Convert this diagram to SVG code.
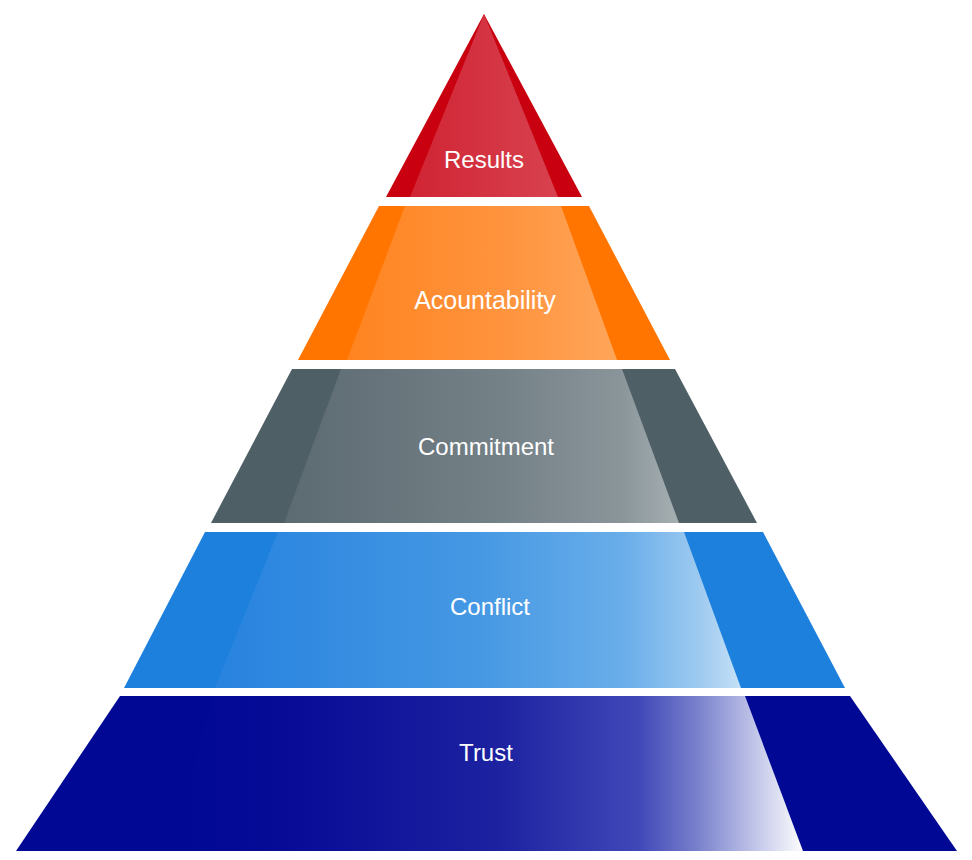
<svg xmlns="http://www.w3.org/2000/svg" width="972" height="860" viewBox="0 0 972 860">
<defs>
<style>
.lbl{font-family:"Liberation Sans",Arial,sans-serif;font-size:24px;fill:#ffffff;text-anchor:middle}
</style>
<linearGradient id="gR" gradientUnits="userSpaceOnUse" x1="410" y1="0" x2="560" y2="0">
<stop offset="0" stop-color="#D02434"/><stop offset="1" stop-color="#D8424F"/>
</linearGradient>
<linearGradient id="gA" gradientUnits="userSpaceOnUse" x1="347" y1="0" x2="618" y2="0">
<stop offset="0" stop-color="#FF8420"/><stop offset="0.6" stop-color="#FF943F"/><stop offset="1" stop-color="#FFA65A"/>
</linearGradient>
<linearGradient id="gC" gradientUnits="userSpaceOnUse" x1="284" y1="0" x2="680" y2="0">
<stop offset="0" stop-color="#5C6A71"/><stop offset="0.55" stop-color="#748187"/><stop offset="0.85" stop-color="#8A959A"/><stop offset="1" stop-color="#A6B0B3"/>
</linearGradient>
<linearGradient id="gF" gradientUnits="userSpaceOnUse" x1="215" y1="0" x2="742" y2="0">
<stop offset="0" stop-color="#2883DF"/><stop offset="0.5" stop-color="#4598E3"/><stop offset="0.78" stop-color="#6AAEEA"/><stop offset="0.92" stop-color="#9ECAF0"/><stop offset="1" stop-color="#C6E1F7"/>
</linearGradient>
<linearGradient id="gT" gradientUnits="userSpaceOnUse" x1="168" y1="0" x2="805" y2="0">
<stop offset="0" stop-color="#000894"/><stop offset="0.2" stop-color="#080C97"/><stop offset="0.52" stop-color="#1C22A0"/><stop offset="0.74" stop-color="#4048B8"/><stop offset="0.83" stop-color="#7880CC"/><stop offset="0.92" stop-color="#C0C4E8"/><stop offset="1" stop-color="#FFFFFF"/>
</linearGradient>
</defs>
<rect width="972" height="860" fill="#ffffff"/>
<g id="results">
<polygon points="484,14 582,197 386,197" fill="#C9000F"/>
<polygon points="484,14 558,197 410,197" fill="url(#gR)"/>
<text class="lbl" x="484" y="168">Results</text>
</g>
<g id="accountability">
<polygon points="379,206 589,206 670,360 298,360" fill="#FF7500"/>
<polygon points="405,206 561,206 617,360 347,360" fill="url(#gA)"/>
<text class="lbl" x="485" y="309" style="font-size:25px">Acountability</text>
</g>
<g id="commitment">
<polygon points="292,369 675,369 757,523 211,523" fill="#4F5F66"/>
<polygon points="341,369 622,369 679,523 284,523" fill="url(#gC)"/>
<text class="lbl" x="486" y="455">Commitment</text>
</g>
<g id="conflict">
<polygon points="205,532 763,532 845,688 124,688" fill="#1E80DD"/>
<polygon points="278,532 684,532 741,688 215,688" fill="url(#gF)"/>
<text class="lbl" x="490" y="615">Conflict</text>
</g>
<g id="trust">
<polygon points="120,696 850,696 957,851 16,851" fill="#000894"/>
<polygon points="213,696 745,696 803,851 168,851" fill="url(#gT)"/>
<text class="lbl" x="486" y="761">Trust</text>
</g>
<g id="connectors"/>
</svg>
